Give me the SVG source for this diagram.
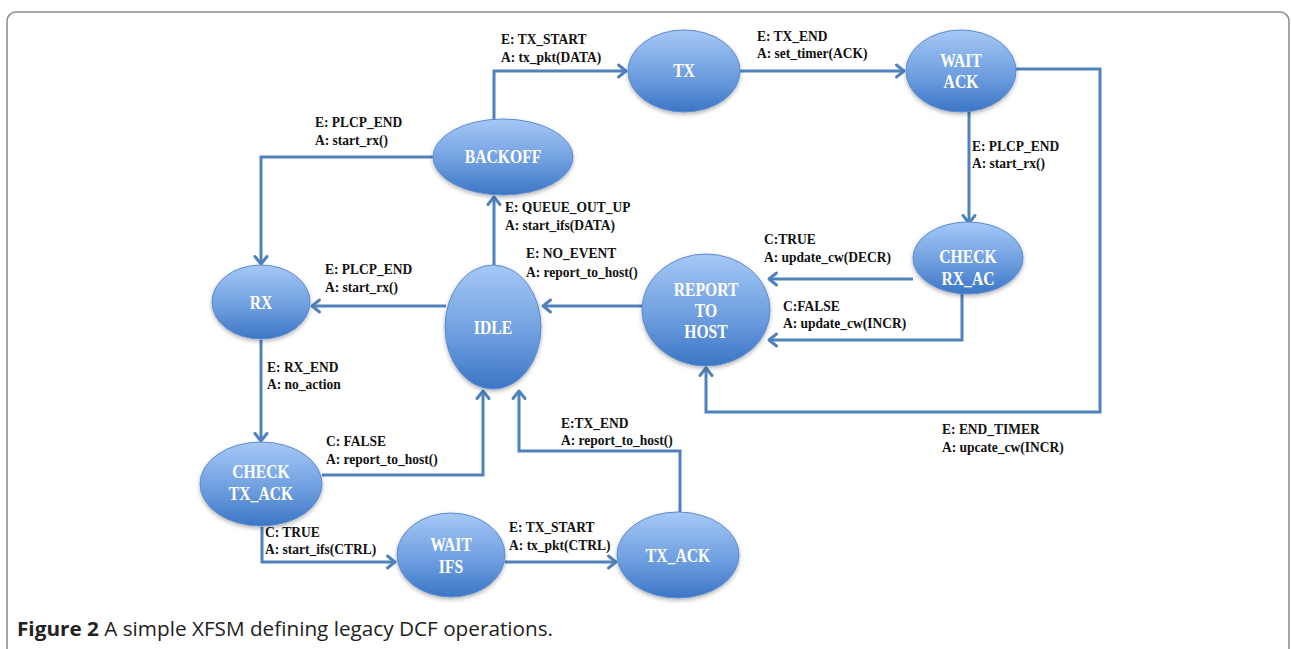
<svg xmlns="http://www.w3.org/2000/svg" width="1291" height="649" viewBox="0 0 1291 649">
<defs>
<linearGradient id="g" x1="0" y1="0" x2="0" y2="1">
<stop offset="0" stop-color="#a6c8f6"/>
<stop offset="0.55" stop-color="#6f9fe0"/>
<stop offset="1" stop-color="#3c76c6"/>
</linearGradient>
<filter id="sh" x="-20%" y="-20%" width="140%" height="150%">
<feDropShadow dx="0" dy="2" stdDeviation="2" flood-color="#000" flood-opacity="0.3"/>
</filter>
<marker id="ar" markerUnits="userSpaceOnUse" markerWidth="14" markerHeight="14" refX="10" refY="7" orient="auto" overflow="visible">
<path d="M2.5,1 L10,7 L2.5,13" fill="none" stroke="#4f81bd" stroke-width="3" stroke-linecap="round" stroke-linejoin="round"/>
</marker>
<style>
.n ellipse{fill:url(#g);stroke:#5b8bd0;stroke-width:1;filter:url(#sh)}
.n text{font-family:"Liberation Serif",serif;font-weight:bold;font-size:18px;fill:#fff;text-anchor:middle}
.c path{fill:none;stroke:#4f81bd;stroke-width:3;marker-end:url(#ar)}
.l{font-family:"Liberation Serif",serif;font-weight:bold;font-size:15px;fill:#111}
.cap{font-family:"Open Sans","Noto Sans",sans-serif;font-size:20px;fill:#222}
</style>
</defs>
<rect x="7" y="12" width="1282" height="700" rx="9" fill="#fff" stroke="#8a8a8a" stroke-width="1.5"/>
<g class="c" id="connectors">
<path d="M494,120 V71 H626"/>
<path d="M740,71 H904"/>
<path d="M969,112 V223"/>
<path d="M1016,69 H1100 V412 H706 V368"/>
<path d="M913,279 H769"/>
<path d="M962,292 V340 H769"/>
<path d="M642,306 H543"/>
<path d="M494,266 V197"/>
<path d="M433,157 H261 V264"/>
<path d="M446,306 H312"/>
<path d="M261,340 V441"/>
<path d="M322,475 H483 V391"/>
<path d="M680,512 V451 H519 V391"/>
<path d="M262,527 V562 H395"/>
<path d="M505,562 H616"/>
</g>
<g id="labels" transform="scale(0.9 1)">
<text class="l" x="556.7" y="44">E: TX_START</text>
<text class="l" x="556.7" y="62">A: tx_pkt(DATA)</text>
<text class="l" x="841.1" y="41">E: TX_END</text>
<text class="l" x="841.1" y="58">A:  set_timer(ACK)</text>
<text class="l" x="1080" y="151">E: PLCP_END</text>
<text class="l" x="1080" y="168">A: start_rx()</text>
<text class="l" x="350" y="127">E: PLCP_END</text>
<text class="l" x="350" y="145">A: start_rx()</text>
<text class="l" x="561.1" y="212">E: QUEUE_OUT_UP</text>
<text class="l" x="561.1" y="230">A: start_ifs(DATA)</text>
<text class="l" x="584.4" y="258">E: NO_EVENT</text>
<text class="l" x="584.4" y="277">A: report_to_host()</text>
<text class="l" x="361.1" y="274">E: PLCP_END</text>
<text class="l" x="361.1" y="292">A: start_rx()</text>
<text class="l" x="296.7" y="372">E: RX_END</text>
<text class="l" x="296.7" y="389">A: no_action</text>
<text class="l" x="848.9" y="244">C:TRUE</text>
<text class="l" x="848.9" y="262">A: update_cw(DECR)</text>
<text class="l" x="870" y="311">C:FALSE</text>
<text class="l" x="870" y="328">A: update_cw(INCR)</text>
<text class="l" x="1046.7" y="434">E: END_TIMER</text>
<text class="l" x="1046.7" y="452">A: upcate_cw(INCR)</text>
<text class="l" x="362.2" y="446">C: FALSE</text>
<text class="l" x="362.2" y="464">A: report_to_host()</text>
<text class="l" x="623.3" y="428">E:TX_END</text>
<text class="l" x="623.3" y="445">A: report_to_host()</text>
<text class="l" x="294.4" y="537">C: TRUE</text>
<text class="l" x="294.4" y="554">A: start_ifs(CTRL)</text>
<text class="l" x="565.6" y="532">E: TX_START</text>
<text class="l" x="565.6" y="550">A: tx_pkt(CTRL)</text>
</g>
<g class="n" id="backoff"><ellipse cx="503" cy="157" rx="70" ry="38"/><text transform="translate(503 163) scale(0.87 1)">BACKOFF</text></g>
<g class="n" id="tx"><ellipse cx="684" cy="71" rx="56" ry="41"/><text transform="translate(684 77) scale(0.87 1)">TX</text></g>
<g class="n" id="waitack"><ellipse cx="961" cy="71" rx="55" ry="41"/><text transform="translate(961 67) scale(0.87 1)">WAIT</text><text transform="translate(961 88) scale(0.87 1)">ACK</text></g>
<g class="n" id="checkrxac"><ellipse cx="968" cy="258" rx="55" ry="36"/><text transform="translate(968 263) scale(0.87 1)">CHECK</text><text transform="translate(968 285) scale(0.87 1)">RX_AC</text></g>
<g class="n" id="report"><ellipse cx="706" cy="310" rx="64" ry="56"/><text transform="translate(706 296) scale(0.87 1)">REPORT</text><text transform="translate(706 317) scale(0.87 1)">TO</text><text transform="translate(706 338) scale(0.87 1)">HOST</text></g>
<g class="n" id="idle"><ellipse cx="493" cy="327" rx="48" ry="62"/><text transform="translate(493 334) scale(0.87 1)">IDLE</text></g>
<g class="n" id="rx"><ellipse cx="261" cy="302" rx="49" ry="37"/><text transform="translate(261 309) scale(0.87 1)">RX</text></g>
<g class="n" id="checktxack"><ellipse cx="261" cy="484" rx="61" ry="42"/><text transform="translate(261 478) scale(0.87 1)">CHECK</text><text transform="translate(261 500) scale(0.87 1)">TX_ACK</text></g>
<g class="n" id="waitifs"><ellipse cx="451" cy="555" rx="54" ry="42"/><text transform="translate(451 551) scale(0.87 1)">WAIT</text><text transform="translate(451 573) scale(0.87 1)">IFS</text></g>
<g class="n" id="txack"><ellipse cx="678" cy="555" rx="61" ry="43"/><text transform="translate(678 562) scale(0.87 1)">TX_ACK</text></g>
<text class="cap" x="17" y="636" textLength="536" lengthAdjust="spacingAndGlyphs"><tspan font-weight="bold">Figure 2</tspan> A simple XFSM defining legacy DCF operations.</text>
</svg>
